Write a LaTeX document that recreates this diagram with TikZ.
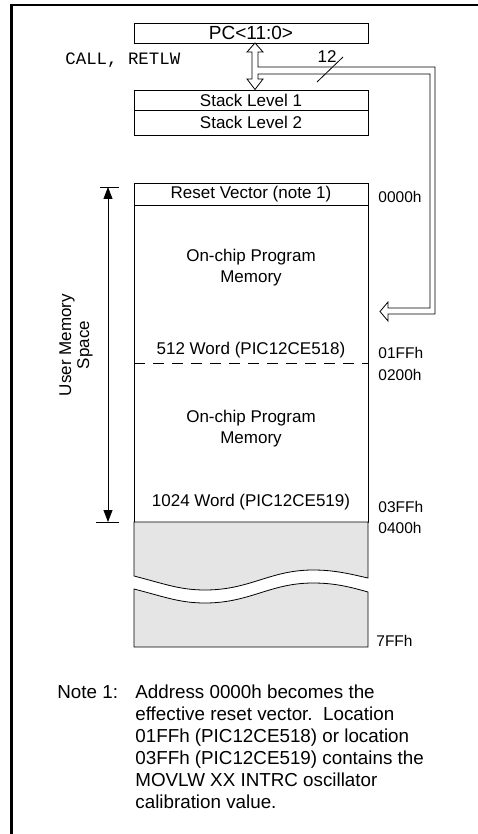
\documentclass[tikz,border=0pt]{standalone}
\usepackage{fontspec}
\setmainfont{Liberation Sans}
\setmonofont{Liberation Mono}
\usetikzlibrary{arrows.meta}

\begin{document}
\begin{tikzpicture}[x=1pt,y=-1pt,line width=0.8pt,>={Triangle[length=12pt,width=9pt]},
    regbox/.style={draw,minimum width=234pt,minimum height=20pt,inner sep=0pt,font=\fontsize{17}{20}\selectfont},
    memtxt/.style={align=center,inner sep=0pt,font=\fontsize{17}{21}\selectfont},
    addr/.style={anchor=west,inner sep=0pt,font=\fontsize{15.5}{18}\selectfont}]

    \useasboundingbox (0,0) rectangle (478,834);
    % frame
    \draw [line width=2.5pt] (11.5,834) -- (11.5,5) -- (478,5);

    % program counter and stack
    \node [regbox,font=\fontsize{19}{20}\selectfont] (pc) at (251,33) {PC<11:0>};
    \node [regbox] (stack1) at (251,100) {Stack Level 1};
    \node [regbox,minimum height=25pt] (stack2) at (251,122.5) {Stack Level 2};
    \node [anchor=base west,inner sep=0pt,font=\ttfamily\fontsize{17.4}{20}\selectfont] (calls) at (65,65) {CALL, RETLW};

    % push/pop arrow and 12 bit bus to memory
    \coordinate (up) at (255,43);
    \coordinate (down) at (255,89.5);
    \coordinate (tip) at (380,311.5);
    \draw [fill=white] (up) -- (263,52) -- (258,52) -- (258,67) -- (435,67) -- (435,314) -- (388,314)
        -- (388,321) -- (tip) -- (388,302) -- (388,308) -- (430,308) -- (430,74) -- (258,74)
        -- (258,79) -- (263,79) -- (down) -- (247,79) -- (252,79) -- (252,52) -- (247,52) -- cycle;
    \node [inner sep=0pt,font=\fontsize{17}{18}\selectfont] (width) at (327,57) {12};
    \draw (317,82) -- (343,57);

    % memory map
    \draw (134,183) rectangle (368,522);
    \draw (134,205) -- (368,205);
    \draw [dash pattern=on 11pt off 8pt] (134,363) -- (368,363);
    \node [memtxt] (reset) at (251,194) {Reset Vector (note 1)};
    \node [memtxt] (mem1) at (251,268) {On-chip Program\\Memory};
    \node [memtxt] (w512) at (251,350) {512 Word (PIC12CE518)};
    \node [memtxt] (mem2) at (251,429) {On-chip Program\\Memory};
    \node [memtxt] (w1024) at (251,502) {1024 Word (PIC12CE519)};

    % unimplemented part
    \filldraw [fill=black!10] (134,522) -- (368,522) -- (368,578) .. controls (350,574) and (335,570) .. (313,570)
        .. controls (270,570) and (250,590) .. (205,590) .. controls (180,590) and (165,584) .. (134,576) -- cycle;
    \filldraw [fill=black!10] (134,589) .. controls (165,597) and (180,603) .. (205,603)
        .. controls (250,603) and (270,583) .. (313,583) .. controls (335,583) and (350,587) .. (368,592)
        -- (368,647) -- (134,647) -- cycle;

    % addresses
    \node [addr] (a0000) at (378,197) {0000h};
    \node [addr] (a01ff) at (378,353) {01FFh};
    \node [addr] (a0200) at (378,375) {0200h};
    \node [addr] (a03ff) at (378,507) {03FFh};
    \node [addr] (a0400) at (378,528) {0400h};
    \node [addr] (a7ff) at (376,641) {7FFh};

    % user memory space
    \coordinate (top) at (108,187);
    \coordinate (bot) at (108,522);
    \draw (100,187) -- (119,187);
    \draw (96,522) -- (119,522);
    \draw [<->] (top) -- (bot);
    \node [rotate=90,align=center,inner sep=0pt,font=\fontsize{17}{18}\selectfont] (user) at (76,345) {User Memory\\Space};

    % note
    \node [anchor=base west,inner sep=0pt,font=\fontsize{18.8}{22}\selectfont] (note) at (57,698) {Note 1:};
    \node [anchor=north west,inner sep=0pt,align=left,font=\fontsize{18.8}{22}\selectfont] (notetxt) at (135,684)
        {Address 0000h becomes the\\effective reset vector.\ \ Location\\01FFh (PIC12CE518) or location\\03FFh (PIC12CE519) contains the\\MOVLW XX INTRC oscillator\\calibration value.};

\end{tikzpicture}
\end{document}
